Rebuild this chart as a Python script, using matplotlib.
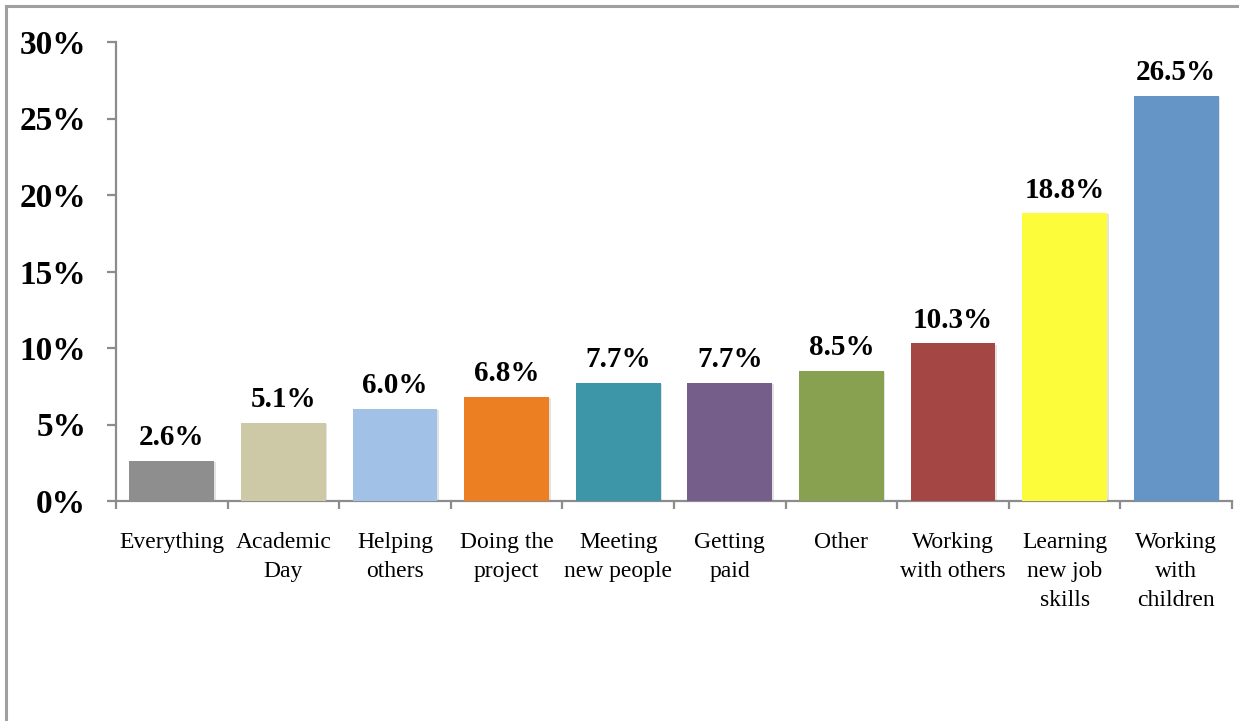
import matplotlib
matplotlib.use("Agg")
import matplotlib.pyplot as plt
from matplotlib.lines import Line2D
from matplotlib.ticker import FuncFormatter, FixedLocator
import matplotlib.patheffects as pe

categories = ["Everything", "Academic\nDay", "Helping\nothers", "Doing the\nproject",
              "Meeting\nnew people", "Getting\npaid", "Other", "Working\nwith others",
              "Learning\nnew job\nskills", "Working\nwith\nchildren"]
values = [2.6, 5.1, 6.0, 6.8, 7.7, 7.7, 8.5, 10.3, 18.8, 26.5]
colors = ["#8E8E8E", "#CDC8A6", "#A2C1E6", "#EC7F22", "#3D96A8", "#765E8B",
          "#87A151", "#A44644", "#FCFC3A", "#6495C6"]
yticks = [0, 5, 10, 15, 20, 25, 30]

plt.rcParams['font.family'] = ['Liberation Serif', 'DejaVu Serif']

W, H = 1239, 721
fig = plt.figure(figsize=(W / 100, H / 100), dpi=100)
fig.patch.set_facecolor("white")
ax = fig.add_axes([116 / W, (H - 501) / H, (1232 - 116) / W, (501 - 42) / H])

n = len(values)
xs = [i + 0.5 for i in range(n)]
bars = ax.bar(xs, values, width=0.76, color=colors, zorder=3)
for b in bars:
    b.set_path_effects([pe.SimplePatchShadow(offset=(1.2, -0.8), shadow_rgbFace="#909090", alpha=0.25),
                        pe.Normal()])

for x, v in zip(xs, values):
    ax.annotate(f"{v:.1f}%", (x, v), xytext=(0, 7), textcoords="offset points",
                ha="center", va="bottom", fontsize=21, fontweight="bold", color="black")

ax.set_xlim(0, n)
ax.set_ylim(0, 30)
ax.yaxis.set_major_locator(FixedLocator(yticks))
ax.yaxis.set_major_formatter(FuncFormatter(lambda v, p: f"{v:.0f}%"))
ax.xaxis.set_major_locator(FixedLocator(list(range(n + 1))))
ax.xaxis.set_major_formatter(FuncFormatter(lambda v, p: ""))
ax.xaxis.set_minor_locator(FixedLocator(xs))
ax.set_xticklabels(categories, minor=True)

axcol = "#8C8C8C"
for s in ["top", "right"]:
    ax.spines[s].set_visible(False)
for s in ["left", "bottom"]:
    ax.spines[s].set_color(axcol)
    ax.spines[s].set_linewidth(1.6)

ax.tick_params(axis="y", which="major", direction="out", length=6.5, width=1.6, color=axcol,
               pad=15, labelsize=24)
for t in ax.get_yticklabels():
    t.set_fontweight("bold")
ax.tick_params(axis="x", which="major", direction="out", length=6, width=1.6, color=axcol)
ax.tick_params(axis="x", which="minor", length=0, pad=22, labelsize=17)
for t in ax.get_xticklabels(minor=True):
    t.set_linespacing(1.5)

# outer frame
fc = "#A0A0A0"
fig.add_artist(Line2D([6 / W, 6 / W], [0, 1 - 6 / H], transform=fig.transFigure, color=fc, lw=2.2))
fig.add_artist(Line2D([6 / W, 1], [1 - 6 / H, 1 - 6 / H], transform=fig.transFigure, color=fc, lw=2.2))

fig.savefig("out.png", dpi=100, facecolor="white")
